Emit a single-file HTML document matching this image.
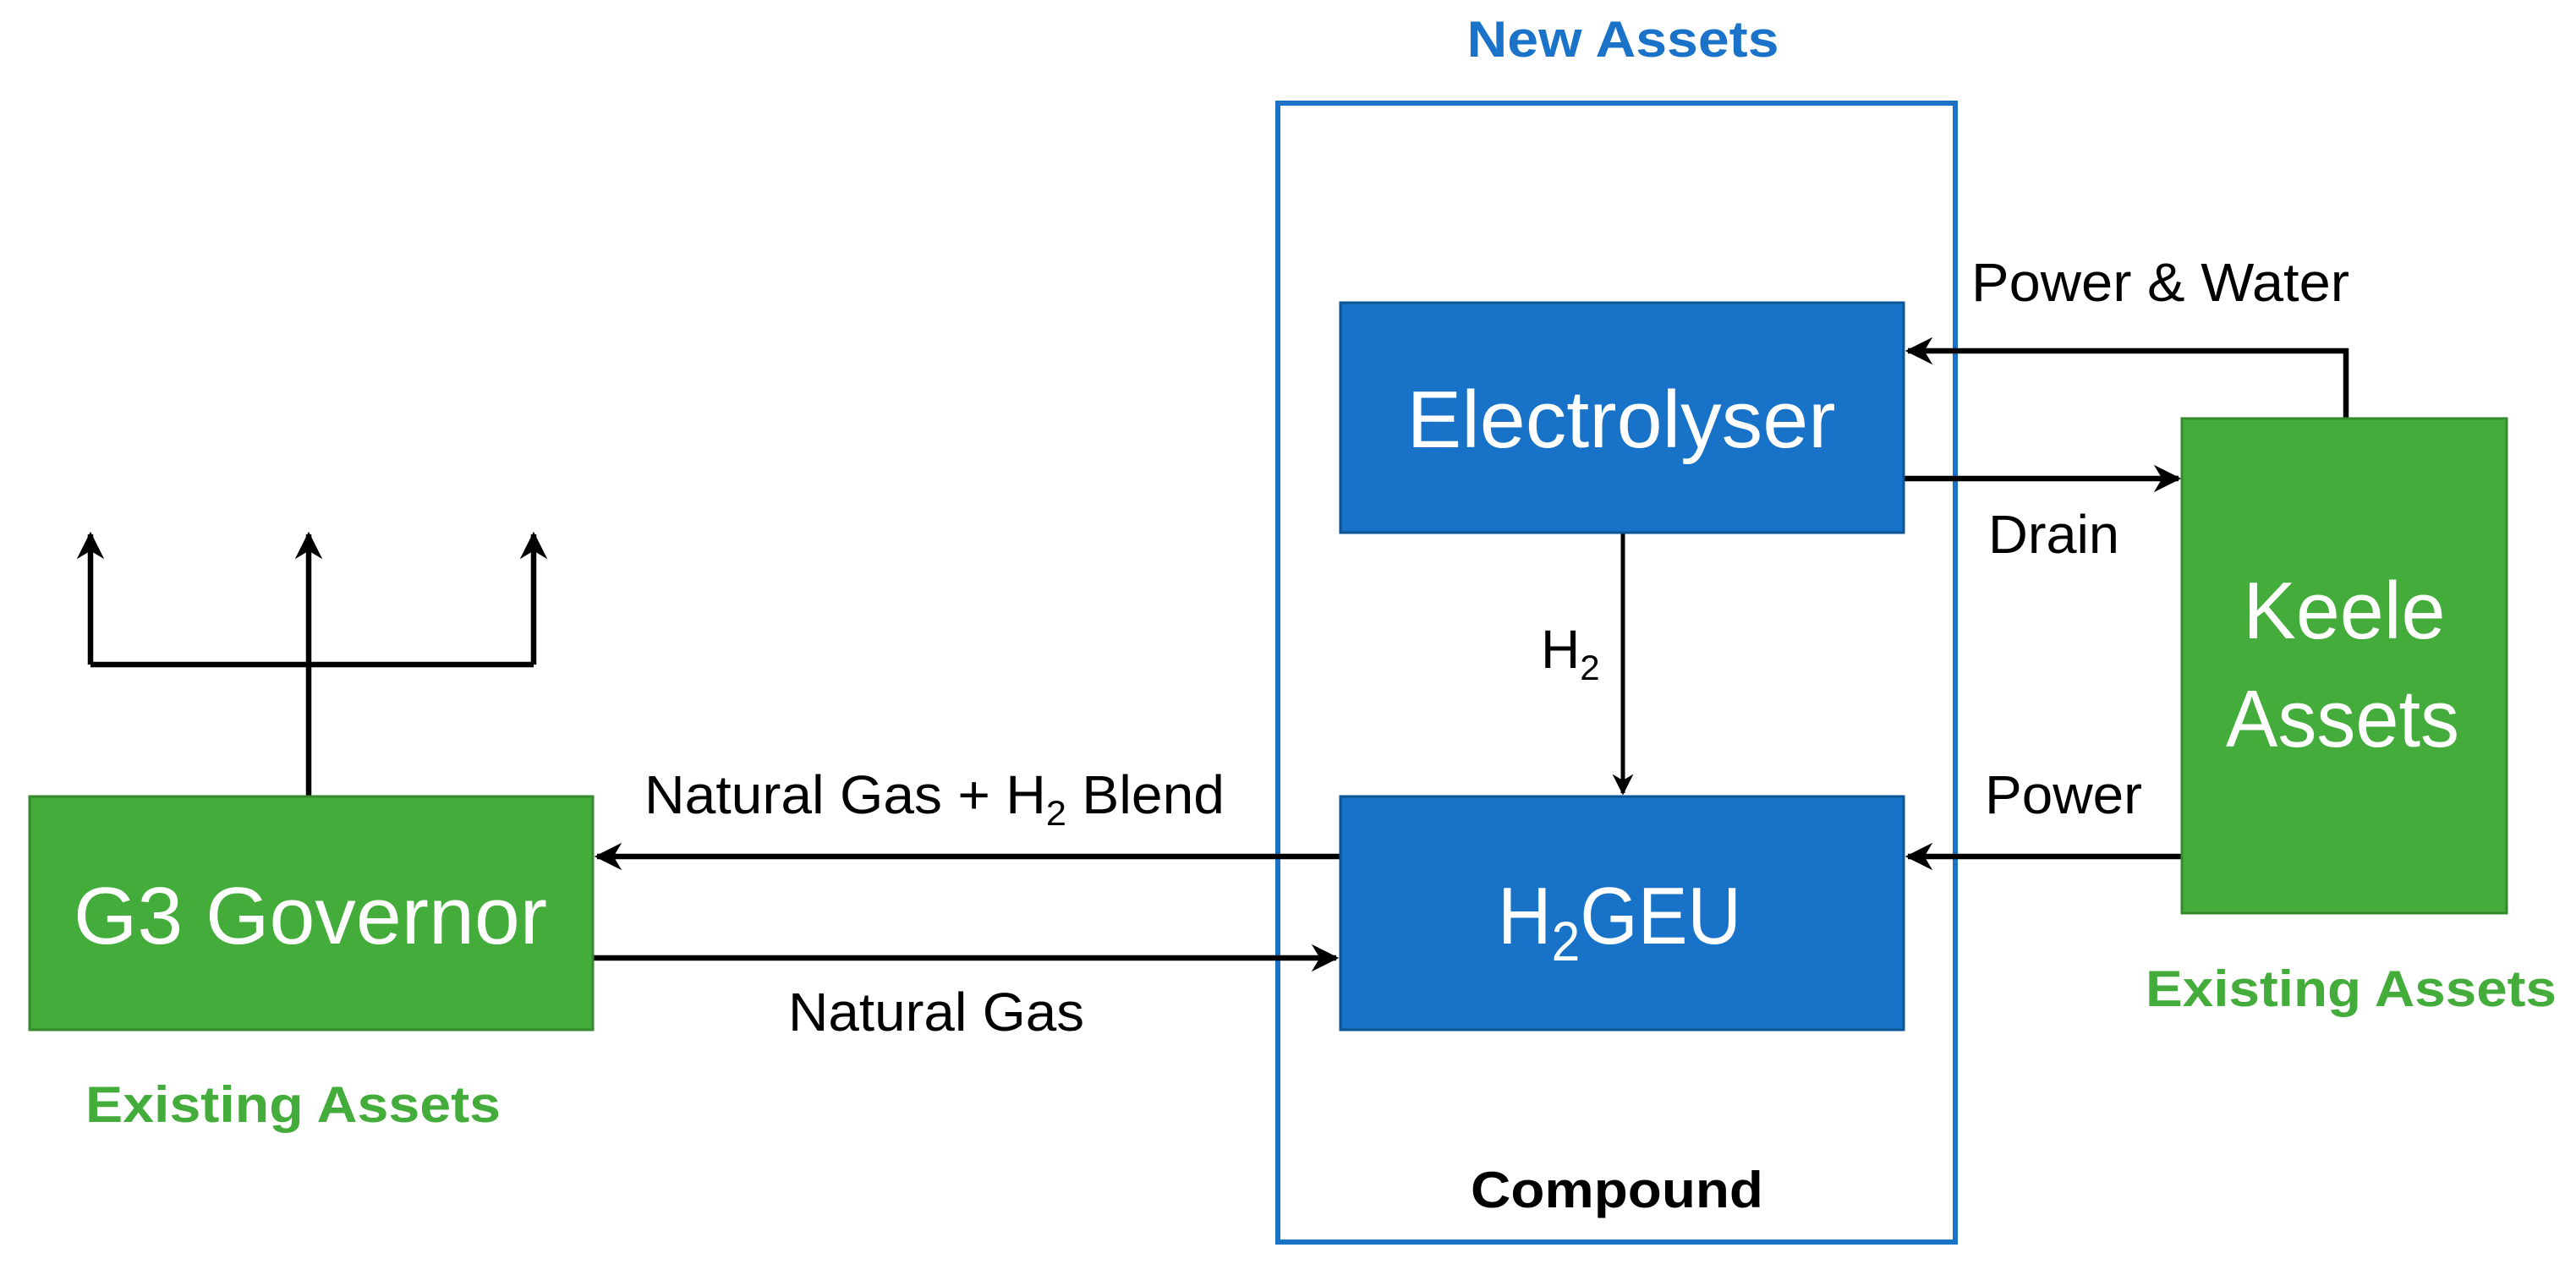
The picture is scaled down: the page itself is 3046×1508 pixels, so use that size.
<!DOCTYPE html>
<html><head><meta charset="utf-8"><style>
html,body{margin:0;padding:0;background:#fff;}
svg{display:block;}
text{font-family:"Liberation Sans",sans-serif;}
</style></head><body>
<svg width="3046" height="1508" viewBox="0 0 3046 1508" xmlns="http://www.w3.org/2000/svg">
<defs>
<marker id="a" viewBox="0 0 10 10" refX="9" refY="5" markerWidth="5" markerHeight="5" orient="auto" markerUnits="strokeWidth">
<path d="M0,0 L10,5 L0,10 L3,5 z" fill="#000"/>
</marker>
</defs>
<rect x="1511" y="122" width="801" height="1347" fill="none" stroke="#1a73c8" stroke-width="6"/>
<text x="1919" y="67" text-anchor="middle" font-size="60" font-weight="bold" fill="#1a73c8" textLength="369" lengthAdjust="spacingAndGlyphs">New Assets</text>
<text x="1912" y="1428" text-anchor="middle" font-size="60" font-weight="bold" fill="#000" textLength="346" lengthAdjust="spacingAndGlyphs">Compound</text>

<g stroke="#000" stroke-width="6.5" fill="none">
<polyline points="2774,495 2774,415 2256,415" marker-end="url(#a)"/>
<line x1="2251" y1="566" x2="2576" y2="566" marker-end="url(#a)"/>
<line x1="1919" y1="630" x2="1919" y2="938" marker-end="url(#a)" stroke-width="5"/>
<line x1="2580" y1="1013" x2="2256" y2="1013" marker-end="url(#a)"/>
<line x1="1585" y1="1013" x2="706" y2="1013" marker-end="url(#a)"/>
<line x1="701" y1="1133" x2="1580" y2="1133" marker-end="url(#a)"/>
<line x1="365" y1="942" x2="365" y2="632" marker-end="url(#a)"/>
<line x1="107" y1="786" x2="631" y2="786"/>
<line x1="107" y1="786" x2="107" y2="632" marker-end="url(#a)"/>
<line x1="631" y1="786" x2="631" y2="632" marker-end="url(#a)"/>
</g>

<rect x="1585" y="358" width="666" height="272" fill="#1873c8" stroke="#0b5496" stroke-width="3"/>
<text x="1917" y="529" text-anchor="middle" font-size="96" fill="#fff" textLength="507" lengthAdjust="spacingAndGlyphs">Electrolyser</text>
<rect x="1585" y="942" width="666" height="276" fill="#1873c8" stroke="#0b5496" stroke-width="3"/>
<text x="1915" y="1116" text-anchor="middle" font-size="96" fill="#fff" textLength="288" lengthAdjust="spacingAndGlyphs">H<tspan font-size="66" dy="20">2</tspan><tspan dy="-20">GEU</tspan></text>
<rect x="35" y="942" width="666" height="276" fill="#43ac3a" stroke="#348a2c" stroke-width="3"/>
<text x="367" y="1116" text-anchor="middle" font-size="96" fill="#fff" textLength="560" lengthAdjust="spacingAndGlyphs">G3 Governor</text>
<rect x="2580" y="495" width="384" height="585" fill="#43ac3a" stroke="#348a2c" stroke-width="3"/>
<text x="2772" y="755" text-anchor="middle" font-size="96" fill="#fff" textLength="239" lengthAdjust="spacingAndGlyphs">Keele</text>
<text x="2770" y="883" text-anchor="middle" font-size="96" fill="#fff" textLength="276" lengthAdjust="spacingAndGlyphs">Assets</text>

<g font-size="64" fill="#000">
<text x="2331" y="356" textLength="447" lengthAdjust="spacingAndGlyphs">Power &amp; Water</text>
<text x="2351" y="654" textLength="155" lengthAdjust="spacingAndGlyphs">Drain</text>
<text x="1822" y="790">H<tspan font-size="42" dy="14">2</tspan></text>
<text x="2347" y="962" textLength="186" lengthAdjust="spacingAndGlyphs">Power</text>
<text x="762" y="962" textLength="686" lengthAdjust="spacingAndGlyphs">Natural Gas + H<tspan font-size="42" dy="14">2</tspan><tspan dy="-14"> Blend</tspan></text>
<text x="932" y="1219" textLength="350" lengthAdjust="spacingAndGlyphs">Natural Gas</text>
</g>
<text x="101" y="1327" font-size="60" font-weight="bold" fill="#43ac3a" textLength="491" lengthAdjust="spacingAndGlyphs">Existing Assets</text>
<text x="2537" y="1190" font-size="60" font-weight="bold" fill="#43ac3a" textLength="486" lengthAdjust="spacingAndGlyphs">Existing Assets</text>
</svg>
</body></html>
